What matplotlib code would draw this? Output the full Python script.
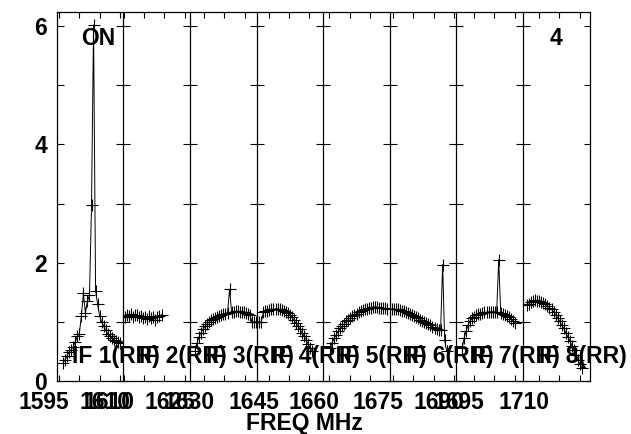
import numpy as np
import matplotlib
matplotlib.use("Agg")
import matplotlib.pyplot as plt

plt.rcParams['font.family'] = ['Liberation Sans', 'DejaVu Sans']
plt.rcParams['font.weight'] = 'bold'

# ---- data ----
if_names = ["IF 1(RR)", "IF 2(RR)", "IF 3(RR)", "IF 4(RR)",
            "IF 5(RR)", "IF 6(RR)", "IF 7(RR)", "IF 8(RR)"]
# frequency range shown in each IF box (MHz)
if_start = [1594.43, 1609.9, 1626.55, 1642.04, 1658.5, 1674.2, 1690.7, 1706.1]
if_width = 16.4
chan_step = 0.5
# first plotted channel frequency per IF
first_freq = [1596.0, 1610.3, 1627.8, 1642.2, 1660.2, 1674.7, 1692.1, 1707.1]

amp_if1 = [0.30, 0.36, 0.43, 0.49, 0.53, 0.58, 0.66, 0.76, 0.80, 1.10, 1.48, 1.15,
           1.35, 1.45, 2.97, 6.02, 1.53, 1.30, 1.10, 1.00, 0.93, 0.86, 0.80, 0.76,
           0.73, 0.70, 0.68, 0.66, 0.64]
amp_if2 = [1.08, 1.12, 1.10, 1.13, 1.09, 1.11, 1.12, 1.08, 1.10, 1.07, 1.09, 1.05,
           1.10, 1.06, 1.08, 1.04, 1.09, 1.10, 1.12]
amp_if3 = [0.50, 0.64, 0.75, 0.82, 0.88, 0.93, 0.97, 1.00, 1.03, 1.05, 1.07, 1.09,
           1.10, 1.12, 1.13, 1.14, 1.15, 1.55, 1.17, 1.17, 1.18, 1.18, 1.17, 1.17,
           1.16, 1.15, 1.14, 1.12, 1.00, 1.00, 1.00]
amp_if4 = [1.00, 1.00, 1.00, 1.16, 1.18, 1.19, 1.20, 1.21, 1.21, 1.22, 1.22, 1.21,
           1.20, 1.19, 1.17, 1.15, 1.12, 1.08, 1.03, 0.98, 0.93, 0.88, 0.82, 0.76,
           0.70, 0.63, 0.56, 0.50]
amp_if5 = [0.55, 0.65, 0.72, 0.78, 0.84, 0.89, 0.93, 0.97, 1.01, 1.04, 1.07, 1.10,
           1.12, 1.14, 1.16, 1.18, 1.20, 1.21, 1.22, 1.23, 1.24, 1.25, 1.25, 1.25,
           1.24, 1.24, 1.23, 1.23, 1.22]
amp_if6 = [1.22, 1.22, 1.21, 1.21, 1.20, 1.19, 1.18, 1.17, 1.15, 1.14, 1.12, 1.10,
           1.08, 1.06, 1.04, 1.02, 1.00, 0.98, 0.96, 0.94, 0.92, 0.90, 0.88, 0.87,
           0.86, 1.97, 0.69, 0.50]
amp_if7 = [0.55, 0.73, 0.85, 0.95, 1.02, 1.06, 1.09, 1.11, 1.13, 1.14, 1.15, 1.16,
           1.16, 1.17, 1.17, 1.17, 1.17, 1.16, 2.05, 1.15, 1.14, 1.12, 1.10, 1.08,
           1.05, 1.02, 0.98]
amp_if8 = [1.28, 1.31, 1.33, 1.35, 1.37, 1.36, 1.35, 1.34, 1.32, 1.30, 1.27, 1.24,
           1.21, 1.17, 1.12, 1.07, 1.01, 0.95, 0.89, 0.82, 0.75, 0.68, 0.60, 0.52,
           0.44, 0.36, 0.28, 0.22]
amps = [amp_if1, amp_if2, amp_if3, amp_if4, amp_if5, amp_if6, amp_if7, amp_if8]

y_ticks = [0, 1, 2, 3, 4, 5, 6]
y_ticklabels = ["0", "", "2", "", "4", "", "6"]
ymax = 6.24

# ---- figure ----
W, H = 631, 434
fig = plt.figure(figsize=(W / 100, H / 100), dpi=100)
left_px, right_px, top_px, bot_px = 56.7, 589.7, 12.0, 381.0
pw = (right_px - left_px) / 8
FS = 16.5

for i in range(8):
    x0 = left_px + i * pw
    ax = fig.add_axes([x0 / W, (H - bot_px) / H, pw / W, (bot_px - top_px) / H])
    ax.set_facecolor('none')
    f = first_freq[i] + chan_step * np.arange(len(amps[i]))
    ax.plot(f, amps[i], '-', color='black', lw=0.7,
            marker='+', ms=9, mew=0.8, mec='black')
    ax.set_xlim(if_start[i], if_start[i] + if_width)
    ax.set_ylim(0, ymax)
    # x ticks every 5 MHz, label the first one and every third after it
    t0 = np.ceil(if_start[i] / 5) * 5
    ticks = np.arange(t0, if_start[i] + if_width, 5)
    ax.set_xticks(ticks)
    ax.set_xticklabels([])
    for k, t in enumerate(ticks):
        if k % 3 == 0:
            ax.annotate(str(int(t)), xy=(t, 0), xycoords=('data', 'axes fraction'),
                        xytext=(-15, -10), textcoords='offset pixels',
                        ha='center', va='top', fontsize=FS, fontweight='bold',
                        annotation_clip=False)
    ax.tick_params(axis='x', direction='in', top=True, bottom=True,
                   length=4.6, width=0.8)
    ax.set_yticks(y_ticks)
    if i == 0:
        ax.set_yticklabels(y_ticklabels, fontsize=FS, fontweight='bold')
        ax.tick_params(axis='y', direction='in', left=True, right=False,
                       length=4.8, width=0.8, pad=7)
    else:
        ax.set_yticklabels([])
        ax.tick_params(axis='y', direction='inout', left=True, right=False,
                       length=9.5, width=0.8)
    for s in ax.spines.values():
        s.set_linewidth(0.9)
        s.set_color('black')
    if i < 7:
        ax.spines['right'].set_visible(False)
    else:
        ax.tick_params(axis='y', right=True, labelright=False)
        for t in ax.yaxis.get_major_ticks():
            t.tick2line.set_marker(matplotlib.lines.TICKLEFT)
            t.tick2line.set_markersize(4.5)
    fig.text((x0 + 15.7) / W, (H - 363) / H, if_names[i], fontsize=FS,
             fontweight='bold', ha='left', va='baseline')

fig.text(80.7 / W, (H - 45) / H, "ON", fontsize=FS, fontweight='bold',
         ha='left', va='baseline')
fig.text(550 / W, (H - 45) / H, "4", fontsize=FS, fontweight='bold',
         ha='left', va='baseline')
fig.text(304 / W, (H - 430) / H, "FREQ MHz", fontsize=FS, fontweight='bold',
         ha='center', va='baseline')

fig.savefig("out.png", dpi=100)
